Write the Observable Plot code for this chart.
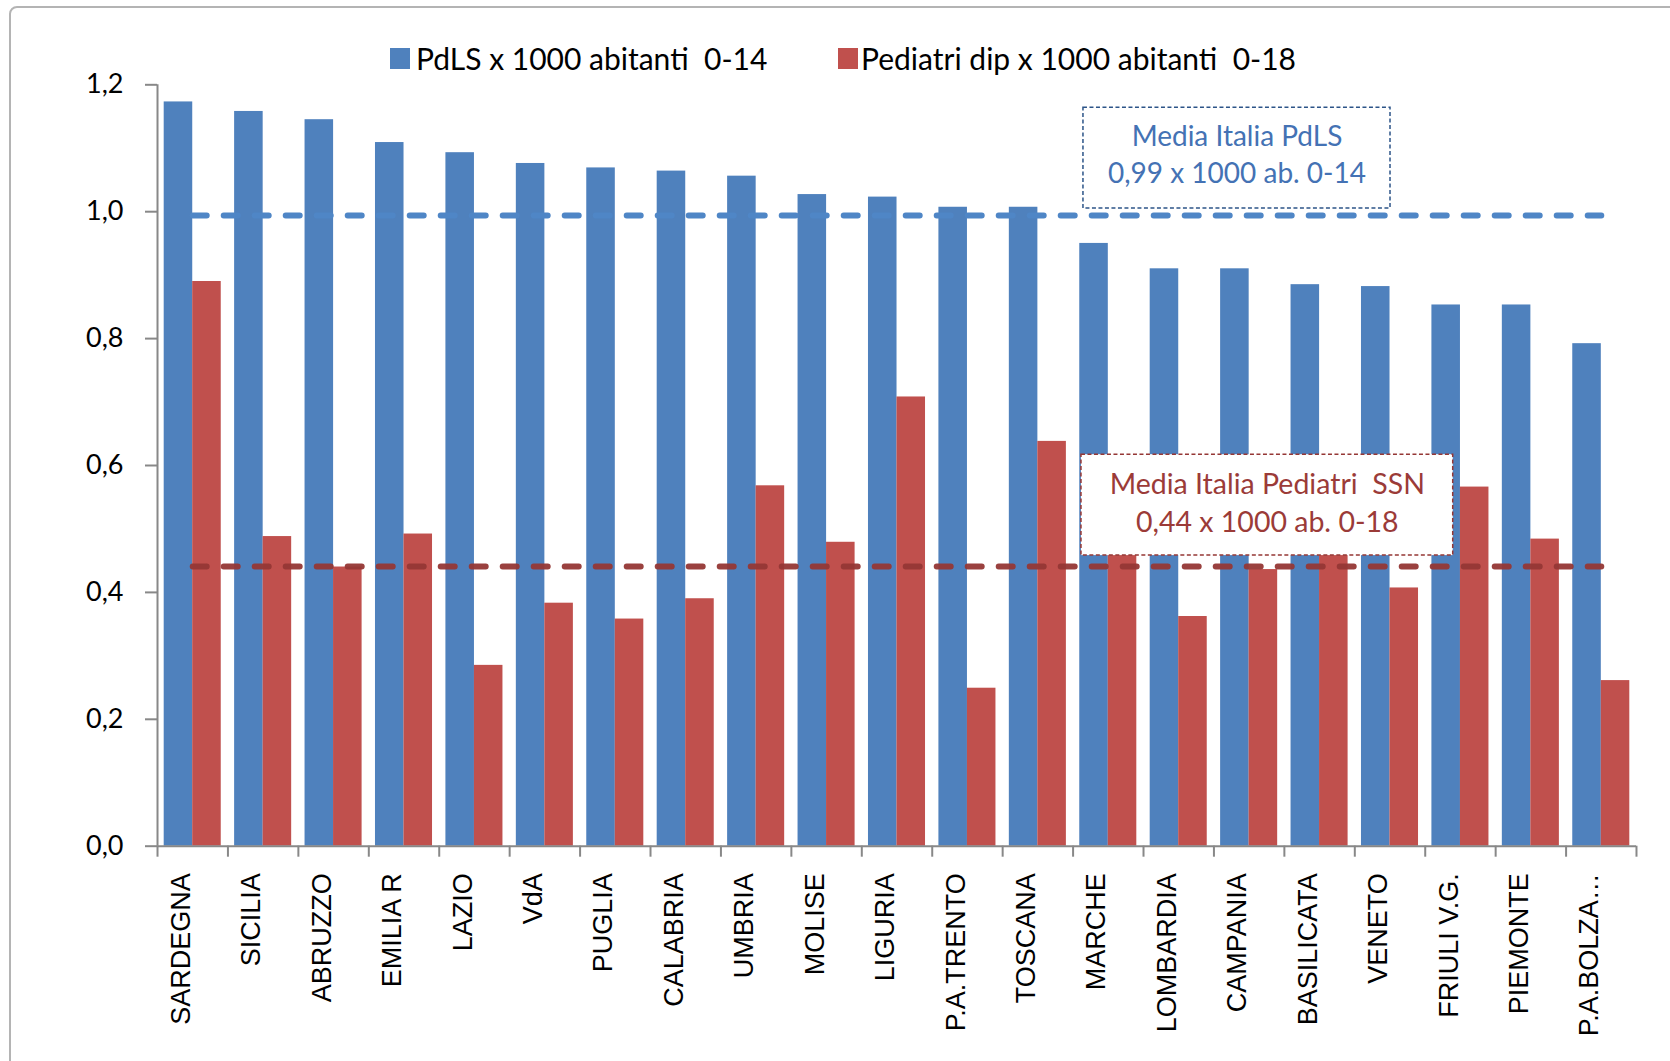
<!DOCTYPE html>
<html>
<head>
<meta charset="utf-8">
<script src="https://cdn.jsdelivr.net/npm/d3@7"></script>
<script src="https://cdn.jsdelivr.net/npm/@observablehq/plot@0.6"></script>
<style>
  html, body { margin: 0; padding: 0; background: #fff; }
  body { width: 1670px; height: 1061px; overflow: hidden; position: relative; }
  #frame { position: absolute; left: 9px; top: 6px; width: 1720px; height: 1120px;
           border: 2px solid #b4b4b4; border-radius: 8px; box-sizing: border-box; }
  #chart { position: absolute; left: 0; top: 0; width: 1670px; }
  #legend { position: relative; height: 74px; font-family: Lato, "Noto Sans", sans-serif; font-size: 30px; color: #000; }
  .sw { position: absolute; top: 48px; width: 20px; height: 21px; }
  .lt { position: absolute; top: 40px; line-height: 36px; white-space: pre; }
  svg { display: block; }
</style>
</head>
<body>
<div id="frame"></div>
<div id="chart">
  <div id="legend"></div>
</div>
<script>
// ---- data ----
const regions = ["SARDEGNA","SICILIA","ABRUZZO","EMILIA R","LAZIO","VdA","PUGLIA","CALABRIA","UMBRIA","MOLISE","LIGURIA","P.A.TRENTO","TOSCANA","MARCHE","LOMBARDIA","CAMPANIA","BASILICATA","VENETO","FRIULI V.G.","PIEMONTE","P.A.BOLZA…"];
const pdls = [1.173,1.158,1.145,1.109,1.093,1.076,1.069,1.064,1.056,1.027,1.023,1.007,1.007,0.950,0.910,0.910,0.885,0.882,0.853,0.853,0.792];
const pediatri = [0.890,0.488,0.440,0.492,0.285,0.383,0.358,0.390,0.568,0.479,0.708,0.249,0.638,0.470,0.362,0.436,0.460,0.407,0.566,0.484,0.261];
const seriesNames = ["PdLS x 1000 abitanti  0-14", "Pediatri dip x 1000 abitanti  0-18"];
const seriesColors = ["#4F81BD", "#C0504D"];
const mediaPdls = 0.994;
const mediaPediatri = 0.441;
const yTicks = [0, 0.2, 0.4, 0.6, 0.8, 1.0, 1.2];
const annotPdls = {label: "Media Italia PdLS\n0,99 x 1000 ab. 0-14", yText: 1.093, y1: 1.005, y2: 1.164};
const annotPed = {label: "Media Italia Pediatri  SSN\n0,44 x 1000 ab. 0-18", yText: 0.5445, y1: 0.458, y2: 0.617};
const annotAnchor = "MARCHE";

const rows = regions.map((r, i) => ({region: r, pdls: pdls[i], ped: pediatri[i]}));

// ---- legend ----
const legend = document.getElementById("legend");
const legendPos = [[390, 416], [838, 861]];
seriesNames.forEach((name, i) => {
  const sw = document.createElement("div");
  sw.className = "sw";
  sw.style.left = legendPos[i][0] + "px";
  sw.style.background = seriesColors[i];
  legend.appendChild(sw);
  const t = document.createElement("div");
  t.className = "lt";
  t.style.left = legendPos[i][1] + "px";
  t.textContent = name;
  legend.appendChild(t);
});

// ---- chart ----
const half = 28.5;     // half of band width (px)
const stepHalf = 35.2; // half of category step (px)
const axisGray = "#888888";

const chart = Plot.plot({
  width: 1670,
  height: 987,
  marginLeft: 157,
  marginRight: 34,
  marginTop: 10.3,
  marginBottom: 215.3,
  style: {background: "transparent", color: "#000", overflow: "visible"},
  x: {domain: regions, paddingInner: 0.19, paddingOuter: 0.095, round: false, axis: null, label: null},
  y: {domain: [0, 1.2], axis: null, label: null},
  marks: [
    Plot.barY(rows, {x: "region", y: "pdls", fill: seriesColors[0], insetRight: half}),
    Plot.barY(rows, {x: "region", y: "ped", fill: seriesColors[1], insetLeft: half}),
    Plot.line([regions[0], regions[regions.length - 1]], {x: d => d, y: () => mediaPdls,
      stroke: "#4F86C6", strokeWidth: 6, strokeDasharray: "14,17", strokeLinecap: "round"}),
    Plot.line([regions[0], regions[regions.length - 1]], {x: d => d, y: () => mediaPediatri,
      stroke: "#953735", strokeWidth: 6, strokeDasharray: "14,17", strokeLinecap: "round", strokeOpacity: 0.95}),
    // annotation boxes
    Plot.barY([annotPdls], {x: () => annotAnchor, y1: "y1", y2: "y2", fill: "white",
      stroke: "#2C5488", strokeWidth: 1.5, strokeDasharray: "4,2.5", insetLeft: 3.7, insetRight: -253.7}),
    Plot.text([annotPdls], {x: () => annotAnchor, y: "yText", text: "label", dx: 128.7,
      fill: "#4472B4", fontSize: 28, fontFamily: "Lato", lineHeight: 1.3}),
    Plot.barY([annotPed], {x: () => annotAnchor, y1: "y1", y2: "y2", fill: "white",
      stroke: "#953735", strokeWidth: 1.5, strokeDasharray: "4,2.5", insetLeft: 1.7, insetRight: -316.4}),
    Plot.text([annotPed], {x: () => annotAnchor, y: "yText", text: "label", dx: 159,
      fill: "#9B3B38", fontSize: 28.5, fontFamily: "Lato", lineHeight: 1.33}),
    // axes lines
    Plot.ruleY([0], {stroke: axisGray, strokeWidth: 2}),
    Plot.ruleX([regions[0]], {y1: 0, y2: 1.2, dx: -stepHalf, stroke: axisGray, strokeWidth: 2}),
    // y axis
    Plot.axisY(yTicks, {tickSize: 12, tickPadding: 22, stroke: axisGray, strokeWidth: 2, label: null,
      tickFormat: d => d.toFixed(1).replace(".", ","), fontSize: 27, fontFamily: "Lato", fill: "#000"}),
    // x axis ticks at category boundaries
    Plot.axisX(regions, {tickSize: 11, tickFormat: () => "", label: null, dx: -stepHalf, stroke: axisGray, strokeWidth: 2}),
    Plot.axisX([regions[regions.length - 1]], {tickSize: 11, tickFormat: () => "", label: null, dx: stepHalf, stroke: axisGray, strokeWidth: 2}),
    // x labels
    Plot.axisX(regions, {tickSize: 0, tickPadding: 27, tickRotate: -90, dx: -11.5, label: null,
      fontSize: 27, fontFamily: "Liberation Sans", fill: "#000"})
  ]
});
document.getElementById("chart").appendChild(chart);
</script>
</body>
</html>
